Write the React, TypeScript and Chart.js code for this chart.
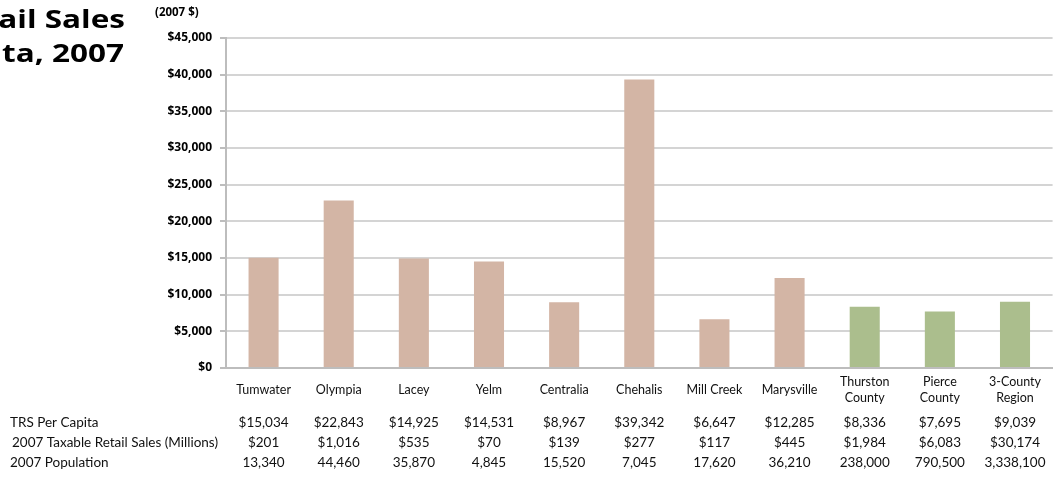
import React, { useEffect, useRef } from "react";
import { Chart, registerables } from "chart.js";

Chart.register(...registerables);

const categories: (string | string[])[] = [
  "Tumwater", "Olympia", "Lacey", "Yelm", "Centralia", "Chehalis", "Mill Creek", "Marysville",
  ["Thurston", "County"], ["Pierce", "County"], ["3-County", "Region"],
];
const trsPerCapita = [15034, 22843, 14925, 14531, 8967, 39342, 6647, 12285, 8336, 7695, 9039];
const trsLabels = ["$15,034", "$22,843", "$14,925", "$14,531", "$8,967", "$39,342", "$6,647", "$12,285", "$8,336", "$7,695", "$9,039"];
const taxableSales = ["$201", "$1,016", "$535", "$70", "$139", "$277", "$117", "$445", "$1,984", "$6,083", "$30,174"];
const population = ["13,340", "44,460", "35,870", "4,845", "15,520", "7,045", "17,620", "36,210", "238,000", "790,500", "3,338,100"];
const rowLabels = ["TRS Per Capita", "2007 Taxable Retail Sales (Millions)", "2007 Population"];
const titleLines = ["Taxable Retail Sales", "Per Capita, 2007"];
const unitLabel = "(2007 $)";

const TAN = "#D3B5A5";
const GREEN = "#ABBE8D";
const FONT = "Lato, 'Open Sans', sans-serif";
const BOLD_FONT = "'Open Sans', Lato, sans-serif";

export default function App() {
  const ref = useRef<HTMLCanvasElement | null>(null);

  useEffect(() => {
    document.body.style.margin = "0";
    const canvas = ref.current!;
    const colors = categories.map((_, i) => (i >= 8 ? GREEN : TAN));

    const extras = {
      id: "extras",
      afterDraw(chart: any) {
        const ctx = chart.ctx;
        const x = chart.scales.x;
        ctx.save();
        // title (cut at left edge)
        ctx.fillStyle = "#000";
        ctx.font = `bold 25px ${BOLD_FONT}`;
        ctx.textAlign = "right";
        ctx.textBaseline = "middle";
        const drawScaled = (t: string, tx: number, ty: number) => {
          ctx.save();
          ctx.translate(tx, ty);
          ctx.scale(1.26, 1);
          ctx.fillText(t, 0, 0);
          ctx.restore();
        };
        drawScaled(titleLines[0], 125, 21);
        drawScaled(titleLines[1], 124, 55);
        // unit label
        ctx.font = `bold 11.5px ${BOLD_FONT}`;
        ctx.textAlign = "left";
        ctx.fillText(unitLabel, 155, 13);
        // table
        const rows = [trsLabels, taxableSales, population];
        const ys = [423, 443, 463];
        ctx.font = `13.5px ${FONT}`;
        ctx.fillStyle = "#111";
        rowLabels.forEach((lab, r) => {
          ctx.textAlign = "left";
          ctx.fillText(lab, r === 1 ? 12 : 10, ys[r]);
          ctx.textAlign = "center";
          rows[r].forEach((v, i) => {
            ctx.fillText(v, x.getPixelForValue(i), ys[r]);
          });
        });
        ctx.restore();
      },
    };

    const chart = new Chart(canvas, {
      type: "bar",
      data: {
        labels: categories as any,
        datasets: [
          {
            data: trsPerCapita,
            backgroundColor: colors,
            borderWidth: 0,
            barPercentage: 0.4,
            categoryPercentage: 1,
          },
        ],
      },
      options: {
        responsive: false,
        animation: false,
        layout: { padding: { top: 38, left: 0, right: 0, bottom: 0 } },
        plugins: { legend: { display: false }, tooltip: { enabled: false }, title: { display: false } },
        scales: {
          x: {
            grid: { display: false, drawTicks: false },
            border: { display: true, color: "#BDBDBD", width: 2 },
            ticks: {
              color: "#111",
              font: { family: FONT, size: 12.5, lineHeight: 1.3 },
              padding: 14,
              maxRotation: 0,
              autoSkip: false,
              crossAlign: "center",
            } as any,
            afterFit(s: any) {
              s.height = 115;
            },
          },
          y: {
            min: 0,
            max: 45000,
            grid: { color: "#D4D4D4", lineWidth: 2, tickLength: 6, tickColor: "#BDBDBD" },
            border: { display: true, color: "#BDBDBD", width: 2 },
            ticks: {
              stepSize: 5000,
              color: "#000",
              padding: 8,
              font: { family: BOLD_FONT, size: 12, weight: "bold" },
              callback: (v: any) => "$" + Number(v).toLocaleString("en-US"),
            },
            afterFit(s: any) {
              s.width = 226;
            },
          },
        },
      },
      plugins: [extras],
    });
    return () => chart.destroy();
  }, []);

  return (
    <div style={{ width: 1055, height: 483 }}>
      <canvas ref={ref} width={1055} height={483} style={{ display: "block" }} />
    </div>
  );
}
